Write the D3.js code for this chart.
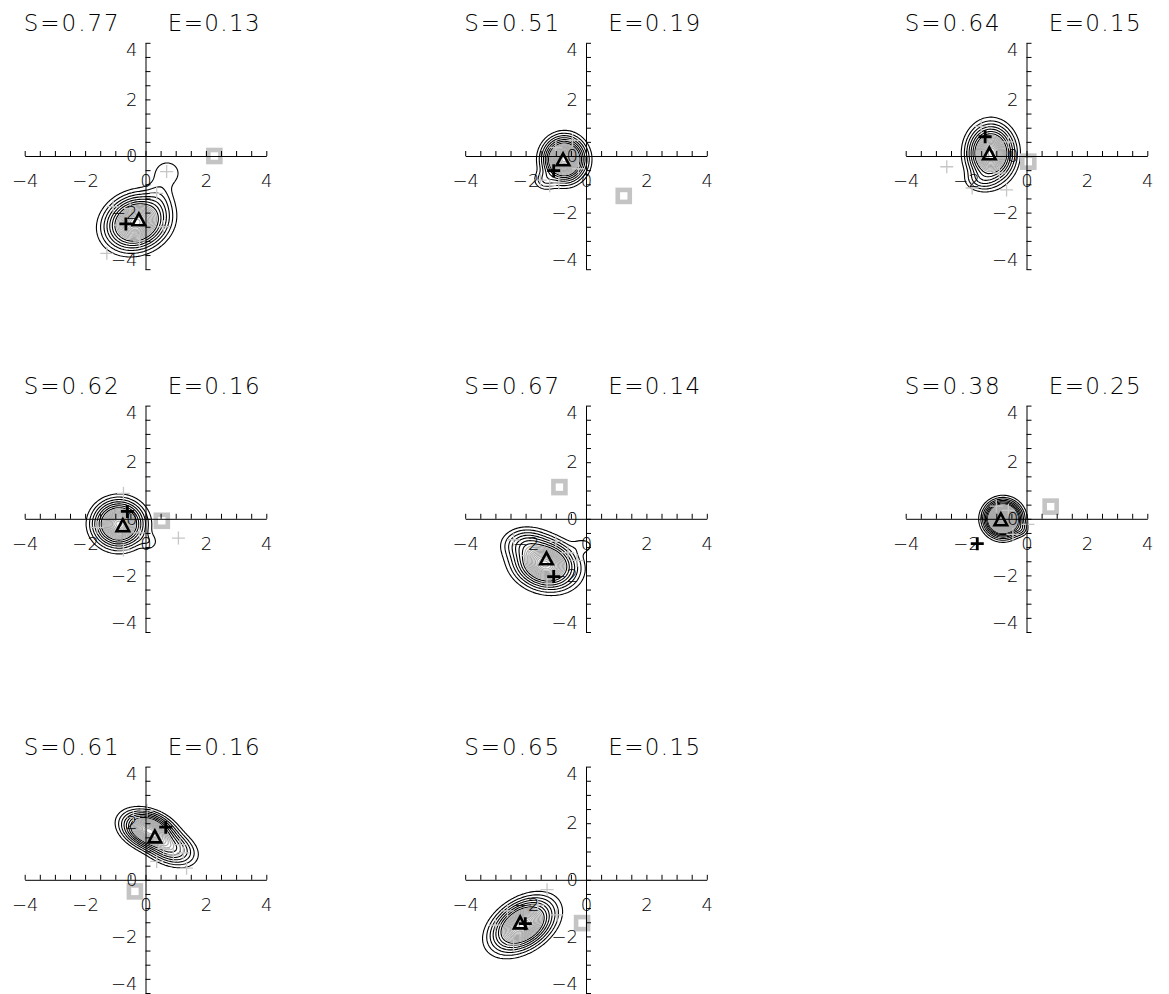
<!DOCTYPE html>
<html>
<head>
<meta charset="utf-8">
<script src="https://cdn.jsdelivr.net/npm/d3@7"></script>
<style>
  html, body { margin: 0; padding: 0; background: #fff; }
  svg { display: block; }
  text { font-family: "DejaVu Sans", Roboto, "Liberation Sans", sans-serif; font-weight: 200; fill: #000; }
</style>
</head>
<body>
<svg id="chart" width="1169" height="994"></svg>
<script>
// Headline statistics of each panel
const sValues = [0.77, 0.51, 0.64, 0.62, 0.67, 0.38, 0.61, 0.65];
const eValues = [0.13, 0.19, 0.15, 0.16, 0.14, 0.25, 0.16, 0.15];

// Axis ticks (labelled majors, unlabelled minors every 0.5)
const majorTicks = [-4, -2, 0, 2, 4];
const minorTicks = [-4, -3.5, -3, -2.5, -2, -1.5, -1, -0.5, 0, 0.5, 1, 1.5, 2, 2.5, 3, 3.5, 4];

// Reference markers per panel
const squarePoints   = [[2.28, 0.0], [1.25, -1.41], [0.06, -0.2], [0.54, -0.07], [-0.88, 1.12], [0.8, 0.43], [-0.35, -0.41], [-0.13, -1.53]];
const crossPoints    = [[-0.65, -2.4], [-1.07, -0.52], [-1.37, 0.68], [-0.6, 0.26], [-1.07, -2.04], [-1.63, -0.88], [0.67, 1.86], [-2.01, -1.55]];
const trianglePoints = [[-0.22, -2.26], [-0.76, -0.14], [-1.23, 0.07], [-0.75, -0.25], [-1.31, -1.42], [-0.85, -0.04], [0.31, 1.51], [-2.18, -1.53]];

// Individual members (light crosses) per panel
const samplePoints = [
  [[0.70, -0.55], [0.37, -1.32], [-1.28, -3.44], [-1.07, -1.79], [0.59, -2.5], [-0.51, -1.85], [-0.84, -2.44], [-0.2, -3.0]],
  [[-1.51, -0.85], [-1.2, -1.05], [-0.45, 0.55], [-0.25, -0.45], [-1.0, 0.3], [-0.9, -0.95]],
  [[-2.64, -0.38], [-0.66, -1.2], [-1.8, -1.13], [-1.5, 1.05], [-0.6, 0.5], [-0.9, -0.6]],
  [[1.09, -0.68], [-0.73, -1.1], [-0.73, 0.9], [-1.6, -0.3], [-0.2, -0.5]],
  [[-0.3, -1.47], [-2.4, -0.74], [-1.29, -2.28], [-0.6, -1.2], [-1.9, -1.3], [-1.0, -0.8]],
  [[0.05, -0.2], [-1.0, 0.45], [-0.45, -0.55], [-0.6, 0.3]],
  [[1.36, 0.41], [0.37, 0.65], [0.92, 0.88], [1.14, 1.24], [-0.4, 2.2], [0.05, 2.45], [1.25, 0.95], [0.6, 1.1]],
  [[-0.96, -1.24], [-1.29, -0.35], [-3.0, -1.6], [-2.4, -2.3], [-1.6, -0.9], [-2.6, -1.1]]
];

// Density components per panel: [cx, cy, sx, sy, rho, weight]
const densityComponents = [
  [[-0.3, -2.35, 0.5, 0.46, 0.15, 1], [0.45, -1.5, 0.28, 0.4, 0, 0.06], [0.72, -0.6, 0.32, 0.32, 0, 0.055]],
  [[-0.72, -0.12, 0.34, 0.38, 0, 1], [-1.35, -0.85, 0.22, 0.2, 0, 0.08]],
  [[-1.18, 0.1, 0.37, 0.48, 0, 1], [-1.5, -0.85, 0.3, 0.22, 0, 0.1]],
  [[-0.88, -0.18, 0.41, 0.4, 0, 1], [0.12, -0.82, 0.2, 0.2, 0, 0.045]],
  [[-1.35, -1.6, 0.5, 0.42, -0.15, 1], [-2.0, -0.9, 0.4, 0.3, 0, 0.2], [-0.1, -0.95, 0.25, 0.18, 0, 0.045]],
  [[-0.78, 0.0, 0.28, 0.29, 0, 1], [-0.2, -0.35, 0.15, 0.15, 0, 0.05]],
  [[0.1, 1.75, 0.42, 0.32, -0.3, 1], [0.8, 1.15, 0.42, 0.32, -0.35, 0.4]],
  [[-2.1, -1.6, 0.5, 0.45, 0.4, 1]]
];

// Peak density of each panel (relative units)
const densityPeaks = [1, 1.15, 1, 1, 1, 1.8, 1, 1];

// Contour levels (relative density); the first ones are drawn in black
const contourLevels = [0.03, 0.06, 0.10, 0.15, 0.21, 0.28, 0.36,
                       0.42, 0.47, 0.52, 0.57, 0.62, 0.67, 0.72, 0.77, 0.82, 0.87, 0.92, 0.97,
                       1.02, 1.07, 1.12, 1.17, 1.22, 1.27, 1.32, 1.37, 1.42, 1.47, 1.52, 1.57, 1.62, 1.67, 1.72, 1.77];
const darkLevelCount = 7;

const svg = d3.select("#chart");

const panelW = 241.6, panelH = 226.4;
const colLeft = [24.7, 465.2, 905.7];
const rowTop = [42.8, 405.6, 766.6];

const gridN = 161, gridStep = 8 / (gridN - 1);

function densityGrid(components, peakValue) {
  const values = new Float64Array(gridN * gridN);
  let peak = 0;
  for (let j = 0; j < gridN; j++) {
    const y = 4 - j * gridStep;
    for (let i = 0; i < gridN; i++) {
      const x = -4 + i * gridStep;
      let v = 0;
      for (const [cx, cy, sx, sy, rho, w] of components) {
        const u = (x - cx) / sx, t = (y - cy) / sy;
        const z = (u * u - 2 * rho * u * t + t * t) / (1 - rho * rho);
        v += w * Math.exp(-z / 2);
      }
      values[j * gridN + i] = v;
      if (v > peak) peak = v;
    }
  }
  for (let k = 0; k < values.length; k++) values[k] = values[k] / peak * peakValue;
  return values;
}

const contourGen = d3.contours().size([gridN, gridN]).thresholds(contourLevels);
const labelFmt = d3.format("d");

sValues.forEach((s, p) => {
  const col = p % 3, row = Math.floor(p / 3);
  const left = colLeft[col], top = rowTop[row];
  const xs = d3.scaleLinear().domain([-4, 4]).range([left, left + panelW]);
  const ys = d3.scaleLinear().domain([-4, 4]).range([top + panelH, top]);
  const g = svg.append("g");

  // Title
  g.append("text").attr("x", left - 1).attr("y", top - 12)
    .style("font-size", "23px").attr("textLength", 95).attr("lengthAdjust", "spacing")
    .text("S=" + s.toFixed(2));
  g.append("text").attr("x", left + 143).attr("y", top - 12)
    .style("font-size", "23px").attr("textLength", 92).attr("lengthAdjust", "spacing")
    .text("E=" + eValues[p].toFixed(2));

  // Density contours
  const proj = d3.geoTransform({
    point(px, py) { this.stream.point(xs(-4 + (px - 0.5) * gridStep), ys(4 - (py - 0.5) * gridStep)); }
  });
  const path = d3.geoPath(proj);
  const contours = contourGen(densityGrid(densityComponents[p], densityPeaks[p]))
    .filter(c => c.coordinates.length > 0);
  g.append("g").selectAll("path").data(contours).join("path")
    .attr("d", path)
    .attr("fill", "none")
    .attr("stroke", (d, i) => i < darkLevelCount ? "#000" : "#aaaaaa")
    .attr("stroke-width", 1.1);

  // Members
  g.append("g").selectAll("path").data(samplePoints[p]).join("path")
    .attr("transform", d => `translate(${xs(d[0])},${ys(d[1])})`)
    .attr("d", "M-6.5,0H6.5M0,-6.5V6.5")
    .attr("stroke", "#c6c6c6").attr("stroke-width", 1.3).attr("fill", "none");

  // Grey square
  g.append("rect")
    .attr("x", xs(squarePoints[p][0]) - 6).attr("y", ys(squarePoints[p][1]) - 6)
    .attr("width", 12).attr("height", 12)
    .attr("fill", "none").attr("stroke", "#c4c4c4").attr("stroke-width", 4.6);

  // Axes through the origin
  const xAxis = d3.axisBottom(xs).tickValues(minorTicks).tickSizeInner(-5).tickSizeOuter(0).tickPadding(18)
    .tickFormat(d => majorTicks.includes(d) ? labelFmt(d) : "");
  const yAxis = d3.axisLeft(ys).tickValues(minorTicks).tickSizeInner(-5).tickSizeOuter(0).tickPadding(8)
    .tickFormat(d => majorTicks.includes(d) ? labelFmt(d) : "");

  const gx = g.append("g").attr("transform", `translate(0,${ys(0)})`).call(xAxis);
  const gy = g.append("g").attr("transform", `translate(${xs(0)},0)`).call(yAxis);
  [gx, gy].forEach(a => {
    a.attr("font-family", null).attr("font-size", null);
    a.selectAll("path, line").attr("stroke", "#000").attr("stroke-width", 1);
    a.selectAll("text").style("font-size", "18px").attr("fill", "#000");
  });
  gy.selectAll(".tick text")
    .attr("transform", d => d === 4 ? "translate(0,7)" : d === -4 ? "translate(0,-9)" : null);

  // Black cross and triangle
  g.append("path")
    .attr("transform", `translate(${xs(crossPoints[p][0])},${ys(crossPoints[p][1])})`)
    .attr("d", "M-6.5,0H6.5M0,-6.5V6.5")
    .attr("stroke", "#000").attr("stroke-width", 2.8).attr("fill", "none");
  g.append("path")
    .attr("transform", `translate(${xs(trianglePoints[p][0])},${ys(trianglePoints[p][1])})`)
    .attr("d", "M0,-6.5L6.3,5.3L-6.3,5.3Z")
    .attr("stroke", "#000").attr("stroke-width", 2.6).attr("fill", "none")
    .attr("stroke-linejoin", "miter");
});
</script>
</body>
</html>
